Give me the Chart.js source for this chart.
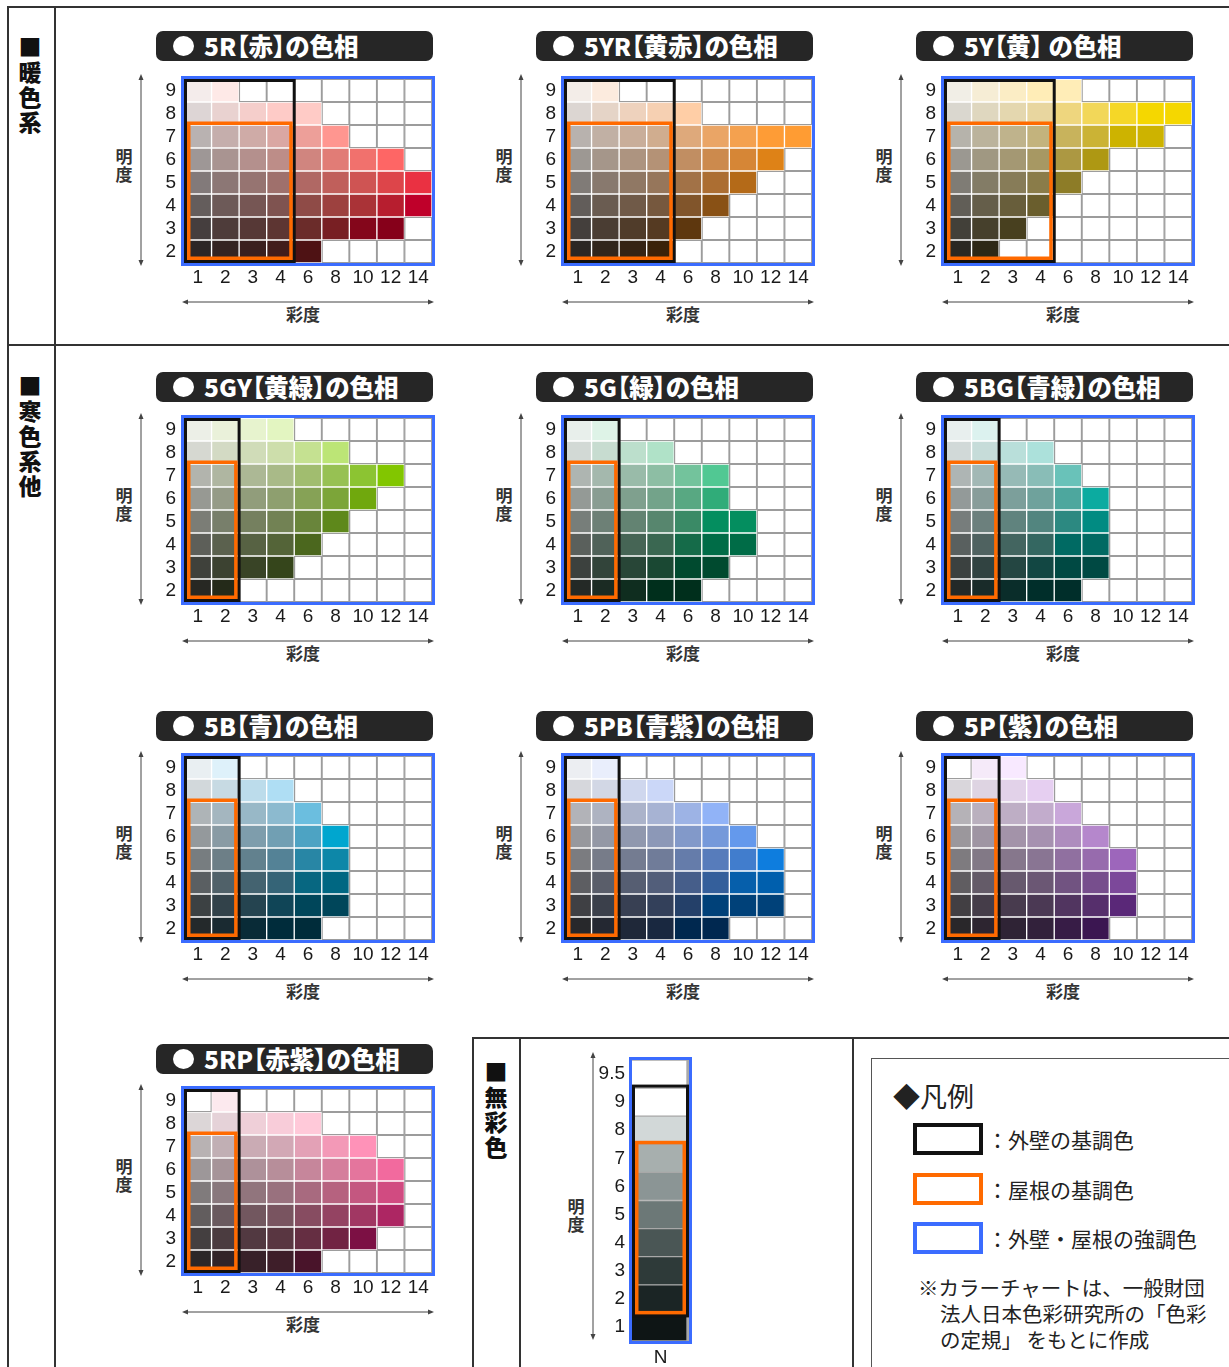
<!DOCTYPE html>
<html lang="ja">
<head>
<meta charset="utf-8">
<title>色相別カラーチャート</title>
<script src="https://cdn.jsdelivr.net/npm/chart.js@4.4.1/dist/chart.umd.min.js"></script>
<style>
  html, body { margin: 0; padding: 0; background: #fff; }
  body { width: 1229px; height: 1367px; position: relative; overflow: hidden;
         font-family: "Noto Sans CJK JP", "Noto Sans", sans-serif; color: #111; }
  .line { position: absolute; background: #333; }
  .sec { position: absolute; writing-mode: vertical-rl; font-size: 23px; font-weight: 900;
         letter-spacing: 2px; line-height: 23px; width: 23px; color: #111; }
  .title { position: absolute; height: 30px; width: 277px; background: #262626; border-radius: 7px;
           color: #fff; font-weight: 900; font-size: 24.5px; line-height: 29px; box-sizing: border-box;
           padding-left: 48px; white-space: nowrap; font-feature-settings: "palt"; }
  .title::before { content: ""; position: absolute; left: 17px; top: 5px; width: 21px; height: 20px;
                   border-radius: 50%; background: #fff; }
  .vlab { position: absolute; width: 18px; font-size: 17px; font-weight: 700; line-height: 18px;
          text-align: center; color: #333; }
  .hlab { position: absolute; width: 40px; font-size: 17px; font-weight: 700; line-height: 18px;
          text-align: center; color: #333; }
  .legend { position: absolute; font-size: 21px; line-height: 26px; color: #222; white-space: nowrap; }
  .swatch { position: absolute; left: 913px; width: 70px; height: 32px; box-sizing: border-box; background: #fff; }
  canvas { position: absolute; }
  svg { position: absolute; left: 0; top: 0; }
</style>
</head>
<body>

<!-- frame lines -->
<div class="line" style="left:7px;top:6px;width:2px;height:1361px;"></div>
<div class="line" style="left:7px;top:6px;width:1222px;height:2px;"></div>
<div class="line" style="left:54px;top:6px;width:2px;height:1361px;"></div>
<div class="line" style="left:7px;top:344px;width:1222px;height:2px;"></div>
<div class="line" style="left:472px;top:1037px;width:757px;height:2px;"></div>
<div class="line" style="left:472px;top:1037px;width:2px;height:330px;"></div>
<div class="line" style="left:519px;top:1037px;width:2px;height:330px;"></div>
<div class="line" style="left:852px;top:1037px;width:2px;height:330px;"></div>
<div class="line" style="left:871px;top:1058px;width:358px;height:1px;background:#555;"></div>
<div class="line" style="left:871px;top:1058px;width:1px;height:309px;background:#555;"></div>

<div class="sec" style="left:18px;top:36px;">■暖色系</div>
<div class="sec" style="left:18px;top:375px;">■寒色系他</div>
<div class="sec" style="left:484px;top:1061px;">■無彩色</div>

<!-- legend -->
<div class="legend" style="left:893px;top:1080px;font-size:27px;line-height:32px;">◆凡例</div>
<div class="swatch" style="top:1123px;border:4px solid #111;"></div>
<div class="swatch" style="top:1173px;border:4px solid #ff6a00;"></div>
<div class="swatch" style="top:1222px;border:4px solid #3b6cff;"></div>
<div class="legend" style="left:987px;top:1126px;">：外壁の基調色</div>
<div class="legend" style="left:987px;top:1176px;">：屋根の基調色</div>
<div class="legend" style="left:987px;top:1225px;">：外壁・屋根の強調色</div>
<div class="legend" style="left:918px;top:1274px;font-size:20.5px;">※カラーチャートは、一般財団</div>
<div class="legend" style="left:940px;top:1300px;font-size:20.5px;">法人日本色彩研究所の「色彩</div>
<div class="legend" style="left:940px;top:1326px;font-size:20.5px;">の定規」 をもとに作成</div>

<script>
// ---- data ----
const chromaLabels = ['1', '2', '3', '4', '6', '8', '10', '12', '14'];
const chromaSteps = [1, 2, 3, 4, 6, 8, 10, 12, 14];
const valueRows = [9, 8, 7, 6, 5, 4, 3, 2];
const hueNames = ['5R', '5YR', '5Y', '5GY', '5G', '5BG', '5B', '5PB', '5P', '5RP'];
const hueTitles = ['5R【赤】の色相', '5YR【黄赤】の色相', '5Y【黄】 の色相',
  '5GY【黄緑】の色相', '5G【緑】の色相', '5BG【青緑】の色相',
  '5B【青】の色相', '5PB【青紫】の色相', '5P【紫】の色相', '5RP【赤紫】の色相'];

// highest chroma shown on each value row (9 -> 2)
const maxChroma5R  = [2, 6, 8, 12, 14, 14, 12, 6];
const maxChroma5YR = [2, 6, 14, 12, 10, 8, 6, 4];
const maxChroma5Y  = [6, 14, 12, 8, 6, 4, 3, 2];
const maxChroma5GY = [4, 8, 12, 10, 8, 6, 4, 2];
const maxChroma5G  = [2, 4, 8, 8, 10, 10, 8, 6];
const maxChroma5BG = [2, 4, 6, 8, 8, 8, 8, 6];
const maxChroma5B  = [2, 4, 6, 8, 8, 8, 8, 6];
const maxChroma5PB = [2, 4, 8, 10, 12, 12, 12, 8];
const maxChroma5P  = [3, 4, 6, 8, 10, 10, 10, 8];
const maxChroma5RP = [2, 6, 10, 12, 12, 12, 10, 6];
// lowest chroma shown on value 9 (some charts leave 9/1 blank)
const minChroma9 = [1, 1, 1, 1, 1, 1, 1, 1, 2, 2];
// chroma limit of the wall / roof base colour frames, per hue
const frameMaxChroma = [4, 4, 4, 2, 2, 2, 2, 2, 2, 2];
const wallTopValue = 9;
const roofTopValue = 7;
const frameBottomValue = 2;

const neutralLabels = ['1', '2', '3', '4', '5', '6', '7', '8', '9', '9.5'];

const maxChromaByHue = [maxChroma5R, maxChroma5YR, maxChroma5Y, maxChroma5GY, maxChroma5G,
  maxChroma5BG, maxChroma5B, maxChroma5PB, maxChroma5P, maxChroma5RP];

// ---- styles ----
const hueAngle = [28, 66, 94, 122, 160, 187, 236, 278, 316, 358];   // CIELAB hue angle per hue
const chromaScale = [5.8, 6.2, 8.5, 7.8, 6.5, 5.3, 5.3, 5.0, 5.5, 5.0];
const valueL = { 9: 94, 8: 86, 7: 73, 6: 63, 5: 52, 4: 40, 3: 27, 2: 16 };
const neutralFill = ['#0e1515', '#1b2525', '#2e3a39', '#4a5655', '#6c7877',
  '#8b9595', '#a7afae', '#d2d8d8', '#ffffff', '#ffffff'];
const gridLeft = [184, 564, 944];
const gridTop = [79, 418, 756, 1089];
const titleTop = [31, 372, 711, 1044];
const BLUE = '#3b6cff', ORANGE = '#ff6a00';
const tickFont = { size: 19 };

Chart.defaults.font.family = '"Liberation Sans", Arial, sans-serif';

function labToRgb(L, a, b) {
  const fy = (L + 16) / 116, fx = fy + a / 500, fz = fy - b / 200;
  const f = t => t > 6 / 29 ? t * t * t : 3 * (6 / 29) * (6 / 29) * (t - 4 / 29);
  const X = 0.95047 * f(fx), Y = f(fy), Z = 1.08883 * f(fz);
  return [
    3.2406 * X - 1.5372 * Y - 0.4986 * Z,
    -0.9689 * X + 1.8758 * Y + 0.0415 * Z,
    0.0557 * X - 0.2040 * Y + 1.0570 * Z
  ];
}
function gammaEnc(v) {
  v = Math.min(1, Math.max(0, v));
  return v <= 0.0031308 ? 12.92 * v : 1.055 * Math.pow(v, 1 / 2.4) - 0.055;
}
function cellColor(h, value, chroma) {
  const rad = hueAngle[h] * Math.PI / 180;
  let rgb;
  // low chroma chips print almost grey; pull chroma back until it fits in sRGB
  for (let c = (chroma - 0.5) * chromaScale[h]; c >= 0; c -= 1) {
    rgb = labToRgb(valueL[value], c * Math.cos(rad), c * Math.sin(rad));
    if (rgb.every(v => v >= -0.002 && v <= 1.002)) break;
  }
  return 'rgb(' + rgb.map(v => Math.round(gammaEnc(v) * 255)).join(',') + ')';
}

// blue / black / orange frames
const framePlugin = {
  id: 'frames',
  afterDatasetsDraw(chart, args, o) {
    const { ctx, chartArea: a, scales: { x, y } } = chart;
    const cw = (a.right - a.left) / x.getLabels().length;
    ctx.save();
    ctx.lineWidth = 3;
    ctx.strokeStyle = BLUE;
    ctx.strokeRect(a.left - 1.5, a.top - 1.5, a.right - a.left + 3, a.bottom - a.top + 3);

    const R = Math.min(a.left + cw * o.cols, a.right - 1.5);
    const T = y.getPixelForValue(o.wallTop + 0.5);
    const B = y.getPixelForValue(o.bottom - 0.5);
    const x1 = a.left + 1.5, x2 = R;
    const y1 = Math.max(T - 2, a.top + 1.5), y2 = Math.min(B + 3, a.bottom - 1.5);
    ctx.strokeStyle = '#111';
    ctx.strokeRect(x1, y1, x2 - x1, y2 - y1);

    ctx.lineWidth = 3.5;
    ctx.strokeStyle = ORANGE;
    const ox1 = x1 + 3.25, ox2 = x2 - 3.25;
    const oy1 = y.getPixelForValue(o.roofTop + 0.5) - 1.75, oy2 = y2 - 3.25;
    ctx.strokeRect(ox1, oy1, ox2 - ox1, oy2 - oy1);
    ctx.restore();
  }
};

// keep the value axis from reserving extra room for half tick labels
function fixY(width) {
  return s => { s.width = width; s.paddingTop = 0; s.paddingBottom = 0; };
}

let svg = '';
function vArrow(x, y1, y2) {
  return `<line x1="${x}" y1="${y1 + 4}" x2="${x}" y2="${y2 - 4}" stroke="#444" stroke-width="1"/>` +
    `<path d="M${x} ${y1} l-2.5 6 h5z" fill="#444"/><path d="M${x} ${y2} l-2.5 -6 h5z" fill="#444"/>`;
}
function hArrow(y, x1, x2) {
  return `<line x1="${x1 + 4}" y1="${y}" x2="${x2 - 4}" y2="${y}" stroke="#444" stroke-width="1"/>` +
    `<path d="M${x1} ${y} l6 -2.5 v5z" fill="#444"/><path d="M${x2} ${y} l-6 -2.5 v5z" fill="#444"/>`;
}
function addDiv(cls, style, html) {
  const d = document.createElement('div');
  d.className = cls;
  d.style.cssText = style;
  d.innerHTML = html;
  document.body.appendChild(d);
}

const GW = 248, GH = 184, YW = 36, XH = 30, PAD = 10;

hueNames.forEach((name, h) => {
  const row = Math.floor(h / 3), col = h % 3;
  const gx = gridLeft[col], gy = gridTop[row];

  addDiv('title', `left:${gx - 28}px;top:${titleTop[row]}px;`, hueTitles[h]);
  addDiv('vlab', `left:${gx - 69}px;top:${gy + 68}px;`, '明<br>度');
  addDiv('hlab', `left:${gx + 99}px;top:${gy + 226}px;`, '彩度');
  svg += vArrow(gx - 43, gy - 5, gy + 187);
  svg += hArrow(gy + 223, gx - 2, gx + 250);

  const cv = document.createElement('canvas');
  cv.width = GW + YW + PAD; cv.height = GH + PAD + XH;
  cv.style.cssText = `left:${gx - YW}px;top:${gy - PAD}px;width:${cv.width}px;height:${cv.height}px;`;
  document.body.appendChild(cv);

  const datasets = valueRows.map((v, r) => {
    const shown = chromaSteps.map(c =>
      c <= maxChromaByHue[h][r] && (v !== 9 || c >= minChroma9[h]));
    return {
      label: name + ' ' + v,
      data: chromaSteps.map(() => [v - 0.5, v + 0.5]),
      backgroundColor: chromaSteps.map((c, i) => shown[i] ? cellColor(h, v, c) : '#ffffff'),
      borderColor: shown.map(s => s ? 'rgba(255,255,255,0.35)' : '#9c9c9c'),
      borderWidth: shown.map(s => s ? 1 : 1.3),
      borderSkipped: false,
      grouped: false,
      barPercentage: 1,
      categoryPercentage: 1
    };
  });

  new Chart(cv, {
    type: 'bar',
    data: { labels: chromaLabels, datasets },
    plugins: [framePlugin],
    options: {
      responsive: false,
      animation: false,
      events: [],
      layout: { padding: { top: PAD, right: PAD, left: 0, bottom: 0 } },
      plugins: {
        legend: { display: false },
        tooltip: { enabled: false },
        frames: { cols: chromaSteps.filter(c => c <= frameMaxChroma[h]).length,
                  wallTop: wallTopValue, roofTop: roofTopValue, bottom: frameBottomValue }
      },
      scales: {
        x: {
          grid: { display: false, drawTicks: false }, border: { display: false },
          ticks: { padding: 3, color: '#1a1a1a', font: tickFont, maxRotation: 0, autoSkip: false },
          afterFit: s => { s.height = XH; }
        },
        y: {
          type: 'linear', min: 1.5, max: 9.5,
          grid: { display: false, drawTicks: false }, border: { display: false },
          afterBuildTicks: s => { s.ticks = valueRows.map(v => ({ value: v })); },
          ticks: { padding: 8, color: '#1a1a1a', font: tickFont },
          afterFit: fixY(YW)
        }
      }
    }
  });
});

// ---- neutral column ----
(function () {
  const nx = 632, ny = 1060, nw = 57, nh = 281, yw = 40, xh = 26;
  addDiv('vlab', `left:567px;top:1197px;`, '明<br>度');
  svg += vArrow(593, 1052, 1340);

  const cv = document.createElement('canvas');
  cv.width = yw + nw + 12; cv.height = nh + PAD + xh;
  cv.style.cssText = `left:${nx - yw}px;top:${ny - PAD}px;width:${cv.width}px;height:${cv.height}px;`;
  document.body.appendChild(cv);

  const datasets = neutralLabels.map((lab, k) => ({
    label: 'N' + lab,
    data: [[k + 0.5, k + 1.5]],
    backgroundColor: neutralFill[k],
    borderColor: '#a8a8a8',
    borderWidth: { top: 1, bottom: 1, left: 0, right: 3 },
    borderSkipped: false,
    grouped: false,
    barPercentage: 1,
    categoryPercentage: 1
  }));

  new Chart(cv, {
    type: 'bar',
    data: { labels: ['N'], datasets },
    plugins: [framePlugin],
    options: {
      responsive: false,
      animation: false,
      events: [],
      layout: { padding: { top: PAD, right: 12, left: 0, bottom: 0 } },
      plugins: {
        legend: { display: false },
        tooltip: { enabled: false },
        frames: { cols: 1, wallTop: neutralLabels.indexOf('9') + 1,
                  roofTop: neutralLabels.indexOf('7') + 1, bottom: neutralLabels.indexOf('2') + 1 }
      },
      scales: {
        x: {
          grid: { display: false, drawTicks: false }, border: { display: false },
          ticks: { padding: 5, color: '#1a1a1a', font: tickFont },
          afterFit: s => { s.height = xh; }
        },
        y: {
          type: 'linear', min: 0.5, max: neutralLabels.length + 0.5,
          grid: { display: false, drawTicks: false }, border: { display: false },
          afterBuildTicks: s => { s.ticks = neutralLabels.map((l, k) => ({ value: k + 1 })); },
          ticks: { padding: 7, color: '#1a1a1a', font: tickFont,
                   callback: v => neutralLabels[Math.round(v) - 1] },
          afterFit: fixY(yw)
        }
      }
    }
  });
})();

const holder = document.createElement('div');
holder.innerHTML = `<svg width="1229" height="1367" xmlns="http://www.w3.org/2000/svg">${svg}</svg>`;
document.body.insertBefore(holder.firstChild, document.body.firstChild);
</script>
</body>
</html>
